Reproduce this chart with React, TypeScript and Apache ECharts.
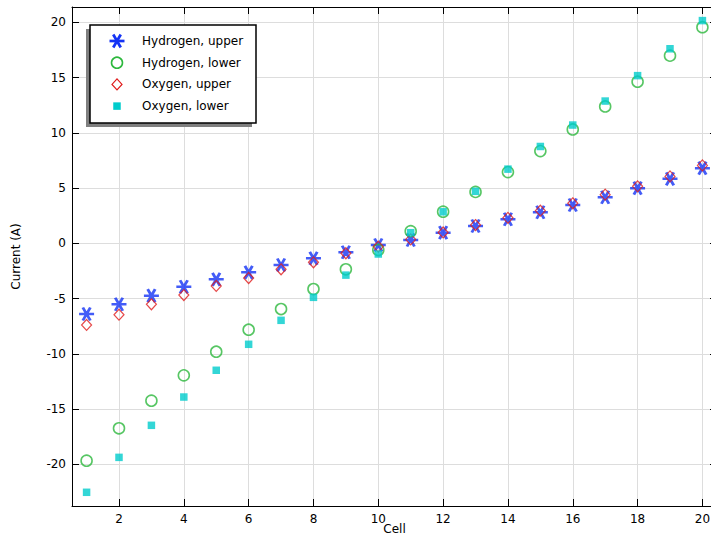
import React, { useEffect, useRef } from "react";
import * as echarts from "echarts";

const cells = [1, 2, 3, 4, 5, 6, 7, 8, 9, 10, 11, 12, 13, 14, 15, 16, 17, 18, 19, 20];
const hydrogenUpper = [-6.4, -5.52, -4.74, -3.93, -3.26, -2.63, -1.96, -1.36, -0.81, -0.15, 0.3, 0.96, 1.57, 2.17, 2.81, 3.47, 4.17, 4.99, 5.83, 6.8];
const hydrogenLower = [-19.67, -16.74, -14.24, -11.95, -9.81, -7.82, -5.95, -4.14, -2.35, -0.6, 1.1, 2.86, 4.65, 6.44, 8.34, 10.3, 12.38, 14.62, 16.98, 19.55];
const oxygenUpper = [-7.39, -6.46, -5.52, -4.68, -3.86, -3.14, -2.35, -1.72, -0.9, -0.3, 0.35, 0.98, 1.65, 2.3, 2.95, 3.62, 4.4, 5.15, 6.05, 7.05];
const oxygenLower = [-22.53, -19.37, -16.47, -13.91, -11.49, -9.14, -6.97, -4.89, -2.88, -0.97, 0.96, 2.85, 4.7, 6.71, 8.76, 10.7, 12.87, 15.17, 17.6, 20.15];
const seriesNames = ["Hydrogen, upper", "Hydrogen, lower", "Oxygen, upper", "Oxygen, lower"];

const FONT = "DejaVu Sans";
const STAR = "path://M0,6.5 L15,6.5 M3.75,0 L11.25,13 M11.25,0 L3.75,13";
const BLUE = "#1433f5";
const GREEN = "#2db83d";
const RED = "#e01b1b";
const CYAN = "#00cccc";

export default function App() {
  const ref = useRef<HTMLDivElement>(null);
  useEffect(() => {
    if (!ref.current) return;
    const chart = echarts.init(ref.current, null, { renderer: "svg" });
    const pairs = (vals: number[]) => cells.map((c, i) => [c, vals[i]]);
    const axisLine = { show: true, onZero: false, lineStyle: { color: "#000", width: 1 } };
    const axisTick = { show: true, inside: true, length: 7, lineStyle: { color: "#000", width: 1 } };
    const xBase = { type: "value" as const, min: 0.55, max: 20.45, splitNumber: 10, axisLine, axisTick };
    const yBase = { type: "value" as const, min: -23.77, max: 21.38, splitNumber: 9, axisLine, axisTick };

    // manual legend
    const rowsY = [41, 62.7, 84.4, 106.1];
    const sx = 117;
    const legendItems: any[] = [];
    const y0 = rowsY[0];
    legendItems.push(
      { type: "line", z: 7, shape: { x1: sx - 7.5, y1: y0, x2: sx + 7.5, y2: y0 }, style: { stroke: BLUE, lineWidth: 2.7 } },
      { type: "line", z: 7, shape: { x1: sx - 3.75, y1: y0 - 6.5, x2: sx + 3.75, y2: y0 + 6.5 }, style: { stroke: BLUE, lineWidth: 2.7 } },
      { type: "line", z: 7, shape: { x1: sx + 3.75, y1: y0 - 6.5, x2: sx - 3.75, y2: y0 + 6.5 }, style: { stroke: BLUE, lineWidth: 2.7 } },
      { type: "circle", z: 7, shape: { cx: sx, cy: rowsY[1], r: 5.5 }, style: { fill: "none", stroke: GREEN, lineWidth: 1.6 } },
      {
        type: "polygon",
        z: 7,
        shape: { points: [[sx, rowsY[2] - 5.5], [sx + 5, rowsY[2]], [sx, rowsY[2] + 5.5], [sx - 5, rowsY[2]]] },
        style: { fill: "none", stroke: RED, lineWidth: 1.2 },
      },
      { type: "rect", z: 7, shape: { x: sx - 3.75, y: rowsY[3] - 3.75, width: 7.5, height: 7.5 }, style: { fill: CYAN } }
    );
    seriesNames.forEach((n, i) => {
      legendItems.push({
        type: "text",
        z: 7,
        x: 142,
        y: rowsY[i],
        style: { text: n, fontFamily: FONT, fontSize: 12, fill: "#000", verticalAlign: "middle", align: "left" },
      });
    });

    chart.setOption({
      animation: false,
      backgroundColor: "#fff",
      grid: { left: 72, top: 7, width: 645, height: 499, containLabel: false, outerBoundsMode: "none" },
      xAxis: [
        {
          ...xBase,
          position: "bottom",
          name: "Cell",
          nameLocation: "middle",
          nameGap: 17,
          nameMoveOverlap: false,
          nameTextStyle: { fontFamily: FONT, fontSize: 12, color: "#000" },
          axisLabel: { showMinLabel: false, showMaxLabel: false, color: "#000", fontFamily: FONT, fontSize: 12, margin: 7 },
          splitLine: { show: true, lineStyle: { color: "#dddddd", width: 1 } },
        },
        { ...xBase, position: "top", axisLabel: { show: false }, splitLine: { show: false } },
      ],
      yAxis: [
        {
          ...yBase,
          position: "left",
          name: "Current (A)",
          nameLocation: "middle",
          nameGap: 50,
          nameMoveOverlap: false,
          nameTextStyle: { fontFamily: FONT, fontSize: 12, color: "#000" },
          axisLabel: { showMinLabel: false, showMaxLabel: false, color: "#000", fontFamily: FONT, fontSize: 12, margin: 6 },
          splitLine: { show: true, lineStyle: { color: "#dddddd", width: 1 } },
        },
        { ...yBase, position: "right", axisLabel: { show: false }, splitLine: { show: false } },
      ],
      graphic: [
        { type: "rect", z: 5, shape: { x: 86, y: 29, width: 166, height: 98 }, style: { fill: "#7f7f7f" } },
        { type: "rect", z: 6, shape: { x: 90, y: 25, width: 166, height: 98 }, style: { fill: "#fff", stroke: "#000", lineWidth: 1.5 } },
        ...legendItems,
      ],
      series: [
        {
          name: seriesNames[0],
          type: "scatter",
          data: pairs(hydrogenUpper),
          symbol: STAR,
          symbolSize: [15, 13],
          itemStyle: { color: "none", borderColor: BLUE, borderWidth: 2.7 },
        },
        {
          name: seriesNames[1],
          type: "scatter",
          data: pairs(hydrogenLower),
          symbol: "circle",
          symbolSize: 11,
          itemStyle: { color: "none", borderColor: GREEN, borderWidth: 1.6 },
        },
        {
          name: seriesNames[2],
          type: "scatter",
          data: pairs(oxygenUpper),
          symbol: "diamond",
          symbolSize: [10, 11],
          itemStyle: { color: "none", borderColor: RED, borderWidth: 1.2 },
        },
        {
          name: seriesNames[3],
          type: "scatter",
          data: pairs(oxygenLower),
          symbol: "rect",
          symbolSize: 7.5,
          itemStyle: { color: CYAN },
        },
      ],
    });
    return () => chart.dispose();
  }, []);
  return (
    <div style={{ position: "absolute", left: 0, top: 0, width: 711, height: 540, overflow: "hidden" }}>
      <div ref={ref} style={{ width: 720, height: 540 }} />
    </div>
  );
}
